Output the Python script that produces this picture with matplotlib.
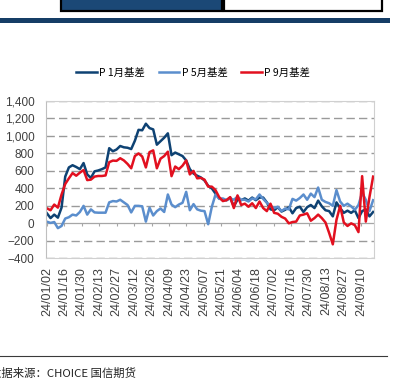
import numpy as np
import matplotlib
matplotlib.use("Agg")
import matplotlib.pyplot as plt
from matplotlib.patches import Rectangle
from matplotlib.lines import Line2D
from matplotlib.ticker import FuncFormatter

# ---------------- data ----------------
tick_labels = ["24/01/02", "24/01/16", "24/01/30", "24/02/13", "24/02/27", "24/03/12",
               "24/03/26", "24/04/09", "24/04/23", "24/05/07", "24/05/21", "24/06/04",
               "24/06/18", "24/07/02", "24/07/16", "24/07/30", "24/08/13", "24/08/27",
               "24/09/10"]

p1_basis = [115, 60, 100, 65, 180, 535, 640, 665, 645, 620,
            690, 560, 520, 595, 605, 620, 640, 860, 825, 845,
            885, 870, 865, 850, 945, 1070, 1065, 1140, 1090, 1075,
            900, 940, 980, 1030, 780, 810, 790, 770, 720, 620,
            570, 545, 525, 490, 430, 400, 340, 285, 270, 265,
            295, 195, 270, 265, 285, 260, 295, 265, 295, 295,
            240, 160, 150, 185, 135, 155, 185, 115, 175, 190,
            130, 185, 210, 175, 260, 195, 150, 140, 80, 240,
            175, 120, 145, 120, 150, 60, 140, 160, 80, 130]

p5_basis = [19, 5, 15, -55, -30, 55, 70, 100, 90, 130,
            200, 100, 160, 125, 122, 122, 122, 240, 255, 250,
            270, 240, 210, 125, 200, 200, 195, 20, 180, 90,
            140, 170, 130, 330, 215, 185, 215, 235, 360, 150,
            220, 160, 145, 140, -10, 190, 330, 280, 285, 265,
            285, 270, 305, 270, 270, 250, 285, 275, 330, 280,
            235, 200, 175, 190, 140, 170, 160, 280, 260, 290,
            330, 270, 340, 300, 410, 270, 245, 230, 200, 380,
            250, 200, 225, 195, 155, 210, 350, 270, 140, 265]

p9_basis = [172, 150, 215, 180, 330, 450, 515, 575, 545, 580,
            610, 495, 500, 535, 542, 542, 548, 700, 718, 715,
            745, 720, 680, 630, 770, 800, 765, 640, 815, 835,
            630, 740, 770, 820, 540, 650, 620, 660, 720, 560,
            600, 515, 520, 500, 420, 420, 380, 300, 255, 265,
            300, 175, 320, 210, 225, 190, 230, 175, 250, 175,
            140, 225, 120, 110, 75, 55, 0, 15, 20, 90,
            100, 115, 30, 60, 100, 60, 10, -110, -240, 40,
            200, 10, -30, 0, -20, -100, 540, 20, 300, 535]

series_names = ["P 1月基差", "P 5月基差", "P 9月基差"]
series_colors = ["#0E4273", "#5B8ECD", "#E2101F"]

# ---------------- figure ----------------
W, H = 393, 379
fig = plt.figure(figsize=(W / 100, H / 100), dpi=100)
fig.patch.set_facecolor("white")

def fx(px):
    return px / W

def fy(py):
    return 1 - py / H

# header decorations (cropped boxes + thick rule)
fig.add_artist(Rectangle((fx(61), fy(11)), fx(161), 0.06, transform=fig.transFigure,
                         facecolor="#1B4876", edgecolor="black", linewidth=1.6))
fig.add_artist(Rectangle((fx(224), fy(11)), fx(158), 0.06, transform=fig.transFigure,
                         facecolor="white", edgecolor="black", linewidth=1.6))
fig.add_artist(Line2D([0, fx(387)], [fy(19.5), fy(19.5)], transform=fig.transFigure,
                      color="#153D66", linewidth=3.6))
fig.add_artist(Line2D([0, fx(387)], [fy(356), fy(356)], transform=fig.transFigure,
                      color="#3A3A3A", linewidth=0.8))

ax = fig.add_axes([fx(45.5), fy(258.3), fx(374) - fx(45.5), fy(101) - fy(258.3)])

n_days = 187
for vals, name, col in zip([p1_basis, p5_basis, p9_basis], series_names, series_colors):
    x = np.linspace(0, n_days, len(vals))
    ax.plot(x, vals, color=col, linewidth=1.8, label=name, solid_joinstyle="round")

ax.set_xlim(-0.8, n_days + 0.5)
ax.set_ylim(-400, 1400)

yt = np.arange(-400, 1401, 200)
ax.set_yticks(yt)
for v in yt:
    if v == 0:
        ax.axhline(0, color="#A6A6A6", linewidth=0.9, zorder=0.5)
    else:
        ax.axhline(v, color="#9A9A9A", linewidth=1.0, linestyle=(0, (6, 3)), zorder=0.5)

xt = np.arange(0, 10 * len(tick_labels), 10)
ax.set_xticks(xt)
ax.set_xticklabels(tick_labels, rotation=90, fontsize=9, color="#404040",
                   family="Liberation Sans")
# small tick marks hanging from the zero line
ax.vlines(xt, -28, 0, color="#A6A6A6", linewidth=0.8, zorder=0.5)

ax.yaxis.set_major_formatter(FuncFormatter(lambda v, p: f"{int(v):,}".replace("-", "\u2212")))
for lab in ax.get_yticklabels():
    lab.set_family("Liberation Sans")
ax.tick_params(axis="y", length=0, pad=8, labelsize=8.5, labelcolor="#404040")
ax.tick_params(axis="x", length=0, pad=6)

for s in ["top", "right", "bottom"]:
    ax.spines[s].set_color("#D0D0D0")
    ax.spines[s].set_linewidth(0.8)
ax.spines["left"].set_color("#BFBFBF")
ax.spines["left"].set_linewidth(0.8)

handles, labels = ax.get_legend_handles_labels()
fig.legend(handles, labels, loc="center", bbox_to_anchor=(fx(193), fy(73)), ncol=3,
           frameon=False, handlelength=2.0, handletextpad=0.2, columnspacing=1.3,
           prop={"family": ["Noto Sans CJK SC", "DejaVu Sans"], "size": 7.5})

fig.text(fx(-9.5), fy(373), "数据来源：CHOICE 国信期货", ha="left", va="center",
         fontsize=8.2, family=["Noto Sans CJK SC", "DejaVu Sans"], color="#222222")

fig.savefig("out.png", dpi=100, facecolor="white")
